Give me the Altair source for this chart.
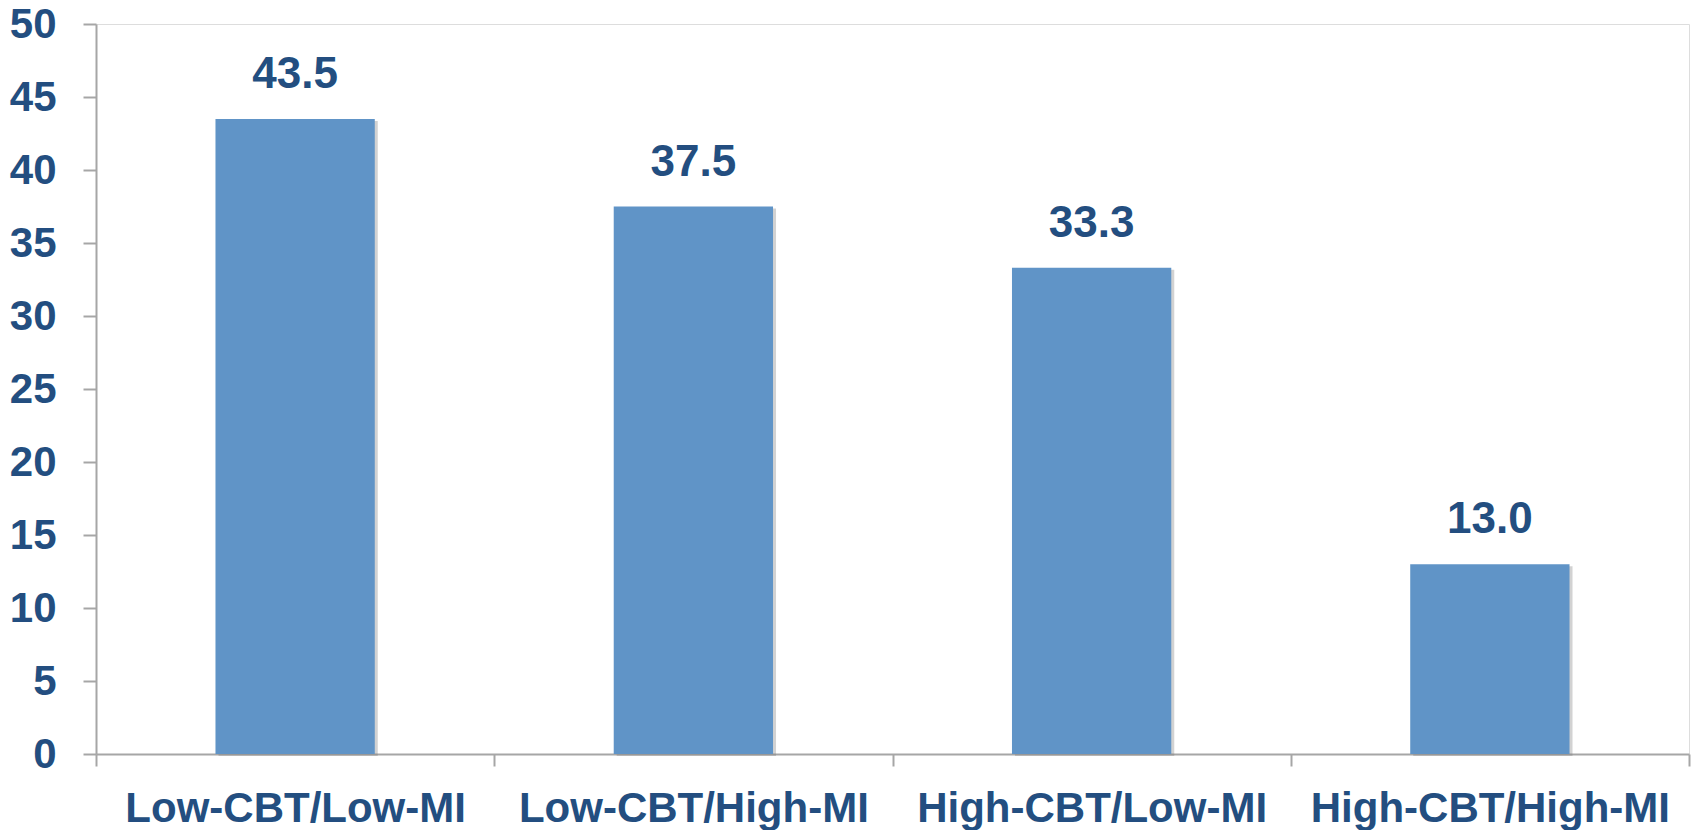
import altair as alt
import pandas as pd

# Percentage by treatment-fidelity group
groups = ["Low-CBT/Low-MI", "Low-CBT/High-MI", "High-CBT/Low-MI", "High-CBT/High-MI"]
values = [43.5, 37.5, 33.3, 13.0]

df = pd.DataFrame({"group": groups, "value": values})

TEXT = "#234E80"
BAR = "#6094C7"
AXIS = "#A6A6A6"
FONT = "Liberation Sans"

x_enc = alt.X(
    "group:N",
    sort=groups,
    scale=alt.Scale(paddingInner=0, paddingOuter=0),
    axis=alt.Axis(
        title=None,
        labelAngle=0,
        labelLimit=0,
        labelFont=FONT,
        labelFontSize=42,
        labelFontWeight="bold",
        labelColor=TEXT,
        labelPadding=22,
        tickBand="extent",
        tickSize=12,
        tickColor=AXIS,
        tickWidth=2,
        domainColor=AXIS,
        domainWidth=2,
    ),
)
y_enc = alt.Y(
    "value:Q",
    scale=alt.Scale(domain=[0, 50], nice=False),
    axis=alt.Axis(
        title=None,
        values=list(range(0, 51, 5)),
        grid=False,
        labelFont=FONT,
        labelFontSize=42,
        labelFontWeight="bold",
        labelColor=TEXT,
        labelPadding=27,
        tickSize=13,
        tickColor=AXIS,
        tickWidth=2,
        domainColor=AXIS,
        domainWidth=2,
    ),
)

base = alt.Chart(df).encode(x=x_enc, y=y_enc)

bar_w = alt.RelativeBandSize(0.4)
shadow = base.mark_bar(color="#7F7F7F", opacity=0.35, xOffset=3, yOffset=2, width=bar_w)
bars = base.mark_bar(color=BAR, width=bar_w)
labels = base.mark_text(
    baseline="bottom",
    dy=-22,
    font=FONT,
    fontSize=44,
    fontWeight="bold",
    color=TEXT,
).encode(text=alt.Text("value:Q", format=".1f"))

chart = (
    alt.layer(shadow, bars, labels)
    .properties(
        width=1593,
        height=730,
        autosize=alt.AutoSizeParams(type="none"),
        padding={"left": 96, "top": 24, "right": 7, "bottom": 76},
    )
    .configure_view(stroke=None)
    .configure(background="white")
)

chart.save("out.html", embed_options={"renderer": "svg", "actions": False})
